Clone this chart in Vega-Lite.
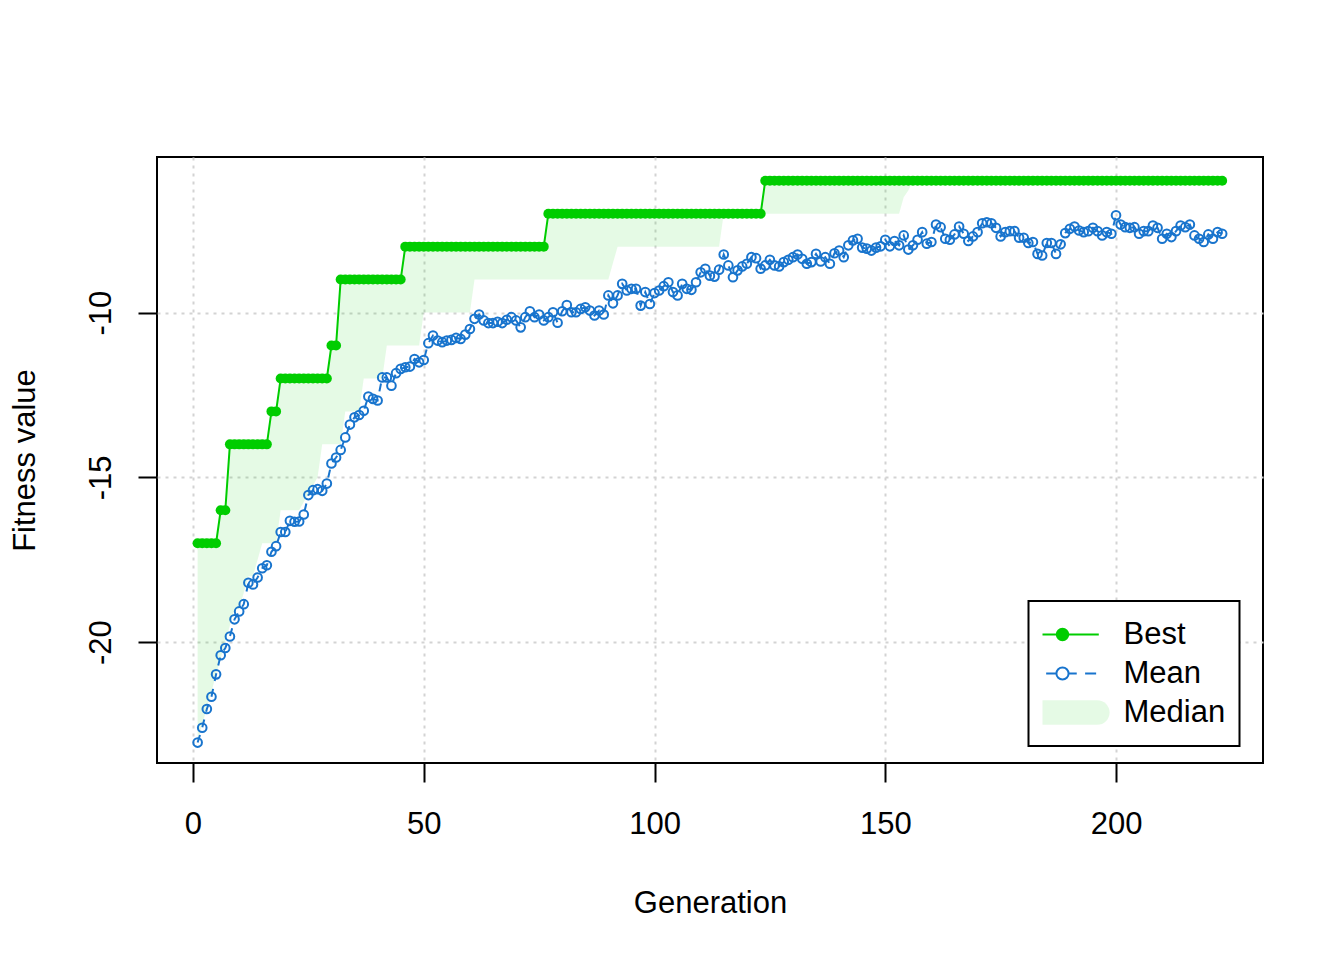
{
"$schema": "https://vega.github.io/schema/vega-lite/v6.json",
"width": 1106, "height": 606,
"autosize": {"type": "none"},
"padding": {"left": 157, "top": 157, "right": 81, "bottom": 197},
"background": "white",
"config": {
  "view": {"stroke": "black", "strokeWidth": 2},
  "font": "Liberation Sans",
  "axis": {"domain": false, "ticks": true, "tickSize": 19, "tickWidth": 2, "tickColor": "black",
    "grid": true, "gridColor": "#D3D3D3", "gridDash": [3, 5], "gridWidth": 2,
    "labelFont": "Liberation Sans", "labelFontSize": 31, "labelColor": "black",
    "titleFont": "Liberation Sans", "titleFontSize": 31, "titleFontWeight": "normal", "titleColor": "black",
    "labelExpr": "'' + datum.value", "labelOverlap": false, "labelFlush": false}
},
"data": {"values": [
{"g":1,"b":-17,"m":-23.05,"md":-23},{"g":2,"b":-17,"m":-22.6,"md":-22.5},{"g":3,"b":-17,"m":-22.03,"md":-22},{"g":4,"b":-17,"m":-21.66,"md":-21.5},{"g":5,"b":-17,"m":-20.98,"md":-21},
{"g":6,"b":-16,"m":-20.4,"md":-20.5},{"g":7,"b":-16,"m":-20.18,"md":-20},{"g":8,"b":-14,"m":-19.83,"md":-19.5},{"g":9,"b":-14,"m":-19.31,"md":-19},{"g":10,"b":-14,"m":-19.07,"md":-19},
{"g":11,"b":-14,"m":-18.85,"md":-18.5},{"g":12,"b":-14,"m":-18.2,"md":-18},{"g":13,"b":-14,"m":-18.25,"md":-18},{"g":14,"b":-14,"m":-18.04,"md":-17.5},{"g":15,"b":-14,"m":-17.76,"md":-17},
{"g":16,"b":-14,"m":-17.67,"md":-17},{"g":17,"b":-13,"m":-17.26,"md":-17},{"g":18,"b":-13,"m":-17.09,"md":-17},{"g":19,"b":-12,"m":-16.66,"md":-16},{"g":20,"b":-12,"m":-16.66,"md":-16},
{"g":21,"b":-12,"m":-16.32,"md":-16},{"g":22,"b":-12,"m":-16.35,"md":-16},{"g":23,"b":-12,"m":-16.34,"md":-16},{"g":24,"b":-12,"m":-16.13,"md":-15.75},{"g":25,"b":-12,"m":-15.54,"md":-15.5},
{"g":26,"b":-12,"m":-15.39,"md":-15.25},{"g":27,"b":-12,"m":-15.36,"md":-15},{"g":28,"b":-12,"m":-15.41,"md":-14},{"g":29,"b":-12,"m":-15.19,"md":-14},{"g":30,"b":-11,"m":-14.58,"md":-14},
{"g":31,"b":-11,"m":-14.4,"md":-14},{"g":32,"b":-9,"m":-14.17,"md":-14},{"g":33,"b":-9,"m":-13.79,"md":-13},{"g":34,"b":-9,"m":-13.4,"md":-13},{"g":35,"b":-9,"m":-13.18,"md":-13},
{"g":36,"b":-9,"m":-13.11,"md":-13},{"g":37,"b":-9,"m":-12.98,"md":-12},{"g":38,"b":-9,"m":-12.55,"md":-12},{"g":39,"b":-9,"m":-12.62,"md":-12},{"g":40,"b":-9,"m":-12.67,"md":-12},
{"g":41,"b":-9,"m":-11.97,"md":-12},{"g":42,"b":-9,"m":-11.97,"md":-11},{"g":43,"b":-9,"m":-12.22,"md":-11},{"g":44,"b":-9,"m":-11.84,"md":-11},{"g":45,"b":-9,"m":-11.71,"md":-11},
{"g":46,"b":-8,"m":-11.66,"md":-11},{"g":47,"b":-8,"m":-11.64,"md":-11},{"g":48,"b":-8,"m":-11.41,"md":-11},{"g":49,"b":-8,"m":-11.51,"md":-11},{"g":50,"b":-8,"m":-11.44,"md":-10},
{"g":51,"b":-8,"m":-10.93,"md":-10},{"g":52,"b":-8,"m":-10.7,"md":-10},{"g":53,"b":-8,"m":-10.85,"md":-10},{"g":54,"b":-8,"m":-10.9,"md":-10},{"g":55,"b":-8,"m":-10.85,"md":-10},
{"g":56,"b":-8,"m":-10.83,"md":-10},{"g":57,"b":-8,"m":-10.77,"md":-10},{"g":58,"b":-8,"m":-10.8,"md":-10},{"g":59,"b":-8,"m":-10.67,"md":-10},{"g":60,"b":-8,"m":-10.5,"md":-10},
{"g":61,"b":-8,"m":-10.19,"md":-9},{"g":62,"b":-8,"m":-10.06,"md":-9},{"g":63,"b":-8,"m":-10.24,"md":-9},{"g":64,"b":-8,"m":-10.32,"md":-9},{"g":65,"b":-8,"m":-10.32,"md":-9},
{"g":66,"b":-8,"m":-10.28,"md":-9},{"g":67,"b":-8,"m":-10.32,"md":-9},{"g":68,"b":-8,"m":-10.22,"md":-9},{"g":69,"b":-8,"m":-10.14,"md":-9},{"g":70,"b":-8,"m":-10.24,"md":-9},
{"g":71,"b":-8,"m":-10.45,"md":-9},{"g":72,"b":-8,"m":-10.14,"md":-9},{"g":73,"b":-8,"m":-9.96,"md":-9},{"g":74,"b":-8,"m":-10.14,"md":-9},{"g":75,"b":-8,"m":-10.06,"md":-9},
{"g":76,"b":-8,"m":-10.24,"md":-9},{"g":77,"b":-7,"m":-10.14,"md":-9},{"g":78,"b":-7,"m":-9.99,"md":-9},{"g":79,"b":-7,"m":-10.31,"md":-9},{"g":80,"b":-7,"m":-9.96,"md":-9},
{"g":81,"b":-7,"m":-9.77,"md":-9},{"g":82,"b":-7,"m":-9.99,"md":-9},{"g":83,"b":-7,"m":-9.99,"md":-9},{"g":84,"b":-7,"m":-9.89,"md":-9},{"g":85,"b":-7,"m":-9.84,"md":-9},
{"g":86,"b":-7,"m":-9.94,"md":-9},{"g":87,"b":-7,"m":-10.09,"md":-9},{"g":88,"b":-7,"m":-9.94,"md":-9},{"g":89,"b":-7,"m":-10.06,"md":-9},{"g":90,"b":-7,"m":-9.48,"md":-9},
{"g":91,"b":-7,"m":-9.72,"md":-8.5},{"g":92,"b":-7,"m":-9.48,"md":-8},{"g":93,"b":-7,"m":-9.13,"md":-8},{"g":94,"b":-7,"m":-9.33,"md":-8},{"g":95,"b":-7,"m":-9.28,"md":-8},
{"g":96,"b":-7,"m":-9.28,"md":-8},{"g":97,"b":-7,"m":-9.79,"md":-8},{"g":98,"b":-7,"m":-9.38,"md":-8},{"g":99,"b":-7,"m":-9.74,"md":-8},{"g":100,"b":-7,"m":-9.41,"md":-8},
{"g":101,"b":-7,"m":-9.33,"md":-8},{"g":102,"b":-7,"m":-9.2,"md":-8},{"g":103,"b":-7,"m":-9.08,"md":-8},{"g":104,"b":-7,"m":-9.38,"md":-8},{"g":105,"b":-7,"m":-9.48,"md":-8},
{"g":106,"b":-7,"m":-9.13,"md":-8},{"g":107,"b":-7,"m":-9.28,"md":-8},{"g":108,"b":-7,"m":-9.31,"md":-8},{"g":109,"b":-7,"m":-9.08,"md":-8},{"g":110,"b":-7,"m":-8.78,"md":-8},
{"g":111,"b":-7,"m":-8.67,"md":-8},{"g":112,"b":-7,"m":-8.88,"md":-8},{"g":113,"b":-7,"m":-8.91,"md":-8},{"g":114,"b":-7,"m":-8.7,"md":-8},{"g":115,"b":-7,"m":-8.24,"md":-7},
{"g":116,"b":-7,"m":-8.57,"md":-7},{"g":117,"b":-7,"m":-8.93,"md":-7},{"g":118,"b":-7,"m":-8.72,"md":-7},{"g":119,"b":-7,"m":-8.6,"md":-7},{"g":120,"b":-7,"m":-8.52,"md":-7},
{"g":121,"b":-7,"m":-8.32,"md":-7},{"g":122,"b":-7,"m":-8.35,"md":-7},{"g":123,"b":-7,"m":-8.67,"md":-7},{"g":124,"b":-6,"m":-8.57,"md":-7},{"g":125,"b":-6,"m":-8.4,"md":-7},
{"g":126,"b":-6,"m":-8.57,"md":-7},{"g":127,"b":-6,"m":-8.6,"md":-7},{"g":128,"b":-6,"m":-8.47,"md":-7},{"g":129,"b":-6,"m":-8.4,"md":-7},{"g":130,"b":-6,"m":-8.32,"md":-7},
{"g":131,"b":-6,"m":-8.24,"md":-7},{"g":132,"b":-6,"m":-8.37,"md":-7},{"g":133,"b":-6,"m":-8.52,"md":-7},{"g":134,"b":-6,"m":-8.47,"md":-7},{"g":135,"b":-6,"m":-8.22,"md":-7},
{"g":136,"b":-6,"m":-8.45,"md":-7},{"g":137,"b":-6,"m":-8.32,"md":-7},{"g":138,"b":-6,"m":-8.52,"md":-7},{"g":139,"b":-6,"m":-8.2,"md":-7},{"g":140,"b":-6,"m":-8.12,"md":-7},
{"g":141,"b":-6,"m":-8.32,"md":-7},{"g":142,"b":-6,"m":-7.96,"md":-7},{"g":143,"b":-6,"m":-7.81,"md":-7},{"g":144,"b":-6,"m":-7.76,"md":-7},{"g":145,"b":-6,"m":-8.03,"md":-7},
{"g":146,"b":-6,"m":-8.06,"md":-7},{"g":147,"b":-6,"m":-8.12,"md":-7},{"g":148,"b":-6,"m":-8.03,"md":-7},{"g":149,"b":-6,"m":-7.99,"md":-7},{"g":150,"b":-6,"m":-7.79,"md":-7},
{"g":151,"b":-6,"m":-7.99,"md":-7},{"g":152,"b":-6,"m":-7.83,"md":-7},{"g":153,"b":-6,"m":-7.96,"md":-7},{"g":154,"b":-6,"m":-7.66,"md":-6.5},{"g":155,"b":-6,"m":-8.09,"md":-6.3},
{"g":156,"b":-6,"m":-7.96,"md":-6},{"g":157,"b":-6,"m":-7.79,"md":-6},{"g":158,"b":-6,"m":-7.56,"md":-6},{"g":159,"b":-6,"m":-7.91,"md":-6},{"g":160,"b":-6,"m":-7.86,"md":-6},
{"g":161,"b":-6,"m":-7.33,"md":-6},{"g":162,"b":-6,"m":-7.41,"md":-6},{"g":163,"b":-6,"m":-7.76,"md":-6},{"g":164,"b":-6,"m":-7.79,"md":-6},{"g":165,"b":-6,"m":-7.63,"md":-6},
{"g":166,"b":-6,"m":-7.39,"md":-6},{"g":167,"b":-6,"m":-7.61,"md":-6},{"g":168,"b":-6,"m":-7.83,"md":-6},{"g":169,"b":-6,"m":-7.69,"md":-6},{"g":170,"b":-6,"m":-7.56,"md":-6},
{"g":171,"b":-6,"m":-7.29,"md":-6},{"g":172,"b":-6,"m":-7.26,"md":-6},{"g":173,"b":-6,"m":-7.29,"md":-6},{"g":174,"b":-6,"m":-7.43,"md":-6},{"g":175,"b":-6,"m":-7.69,"md":-6},
{"g":176,"b":-6,"m":-7.56,"md":-6},{"g":177,"b":-6,"m":-7.53,"md":-6},{"g":178,"b":-6,"m":-7.53,"md":-6},{"g":179,"b":-6,"m":-7.73,"md":-6},{"g":180,"b":-6,"m":-7.73,"md":-6},
{"g":181,"b":-6,"m":-7.89,"md":-6},{"g":182,"b":-6,"m":-7.86,"md":-6},{"g":183,"b":-6,"m":-8.22,"md":-6},{"g":184,"b":-6,"m":-8.27,"md":-6},{"g":185,"b":-6,"m":-7.89,"md":-6},
{"g":186,"b":-6,"m":-7.89,"md":-6},{"g":187,"b":-6,"m":-8.22,"md":-6},{"g":188,"b":-6,"m":-7.93,"md":-6},{"g":189,"b":-6,"m":-7.59,"md":-6},{"g":190,"b":-6,"m":-7.46,"md":-6},
{"g":191,"b":-6,"m":-7.39,"md":-6},{"g":192,"b":-6,"m":-7.51,"md":-6},{"g":193,"b":-6,"m":-7.56,"md":-6},{"g":194,"b":-6,"m":-7.53,"md":-6},{"g":195,"b":-6,"m":-7.43,"md":-6},
{"g":196,"b":-6,"m":-7.53,"md":-6},{"g":197,"b":-6,"m":-7.66,"md":-6},{"g":198,"b":-6,"m":-7.56,"md":-6},{"g":199,"b":-6,"m":-7.61,"md":-6},{"g":200,"b":-6,"m":-7.05,"md":-6},
{"g":201,"b":-6,"m":-7.33,"md":-6},{"g":202,"b":-6,"m":-7.41,"md":-6},{"g":203,"b":-6,"m":-7.43,"md":-6},{"g":204,"b":-6,"m":-7.41,"md":-6},{"g":205,"b":-6,"m":-7.61,"md":-6},
{"g":206,"b":-6,"m":-7.53,"md":-6},{"g":207,"b":-6,"m":-7.53,"md":-6},{"g":208,"b":-6,"m":-7.36,"md":-6},{"g":209,"b":-6,"m":-7.43,"md":-6},{"g":210,"b":-6,"m":-7.76,"md":-6},
{"g":211,"b":-6,"m":-7.61,"md":-6},{"g":212,"b":-6,"m":-7.71,"md":-6},{"g":213,"b":-6,"m":-7.53,"md":-6},{"g":214,"b":-6,"m":-7.36,"md":-6},{"g":215,"b":-6,"m":-7.41,"md":-6},
{"g":216,"b":-6,"m":-7.33,"md":-6},{"g":217,"b":-6,"m":-7.66,"md":-6},{"g":218,"b":-6,"m":-7.76,"md":-6},{"g":219,"b":-6,"m":-7.86,"md":-6},{"g":220,"b":-6,"m":-7.63,"md":-6},
{"g":221,"b":-6,"m":-7.76,"md":-6},{"g":222,"b":-6,"m":-7.56,"md":-6},{"g":223,"b":-6,"m":-7.61,"md":-6}
]},
"encoding": {
  "x": {"field": "g", "type": "quantitative",
    "scale": {"domain": [-7.8, 231.85], "nice": false, "zero": false},
    "axis": {"values": [0, 50, 100, 150, 200], "title": "Generation", "labelBaseline": "alphabetic", "labelPadding": 51,
      "titleX": 553, "titleY": 149, "titleAlign": "center", "titleBaseline": "alphabetic"}}
},
"layer": [
  {"mark": {"type": "area", "fillOpacity": 0.1, "interpolate": "linear"},
   "encoding": {
     "y": {"field": "md", "type": "quantitative",
       "scale": {"domain": [-23.67, -5.28], "nice": false, "zero": false},
       "axis": {"values": [-20, -15, -10], "title": "Fitness value", "labelAngle": 270, "labelAlign": "center", "labelBaseline": "alphabetic", "labelPadding": 28,
         "titleAngle": 270, "titleX": -123, "titleY": 303, "titleAlign": "center", "titleBaseline": "alphabetic"}},
     "y2": {"field": "b"},
     "color": {"datum": "Median", "type": "nominal",
       "scale": {"domain": ["Best", "Mean", "Median"], "range": ["#00CD00", "#1874CD", "#00CD00"]},
       "legend": {"title": null, "orient": "none", "legendX": 871.5, "legendY": 444,
         "fillColor": "white", "strokeColor": "black", "padding": 14,
         "clipHeight": 39, "rowPadding": 0,
         "labelFont": "Liberation Sans", "labelFontSize": 31, "labelColor": "black", "labelOffset": 41, "labelLimit": 400,
         "symbolSize": 1444,
         "encode": {
           "legend": {"update": {"strokeWidth": {"value": 2}}},
           "symbols": {"update": {
             "shape": {"signal": "datum.value === 'Best' ? 'M-1.94,0H1.91M-0.3,0A0.3,0.3 0 1,1 0.3,0A0.3,0.3 0 1,1 -0.3,0Z' : datum.value === 'Mean' ? 'M-1.93,0H-1.29M-0.86,0H-0.32M0.32,0H0.75M1.19,0H1.77M-0.32,0A0.32,0.32 0 1,1 0.32,0A0.32,0.32 0 1,1 -0.32,0Z' : 'M-1.78,-0.65H1.83A0.65,0.65 0 0,1 1.83,0.65H-1.78A0.65,0.65 0 0,1 -1.78,-0.65Z'"},
             "fillOpacity": {"signal": "datum.value === 'Best' ? 1 : datum.value === 'Mean' ? 0 : 0.1"},
             "strokeOpacity": {"signal": "datum.value === 'Median' ? 0 : 1"},
             "strokeWidth": {"value": 2},
             "strokeDash": {"value": []},
             "size": {"value": 1444},
             "opacity": {"value": 1}
           }}
         }}}
   }},
  {"mark": {"type": "line", "strokeWidth": 2},
   "encoding": {"y": {"field": "b", "type": "quantitative"}, "color": {"datum": "Best", "type": "nominal"}}},
  {"mark": {"type": "point", "filled": true, "size": 100, "opacity": 1},
   "encoding": {"y": {"field": "b", "type": "quantitative"}, "color": {"datum": "Best", "type": "nominal"}}},
  {"mark": {"type": "line", "strokeWidth": 2, "strokeDash": [8, 8]},
   "encoding": {"y": {"field": "m", "type": "quantitative"}, "color": {"datum": "Mean", "type": "nominal"}}},
  {"mark": {"type": "point", "filled": false, "size": 75, "strokeWidth": 2, "opacity": 1},
   "encoding": {"y": {"field": "m", "type": "quantitative"}, "color": {"datum": "Mean", "type": "nominal"}}}
]
}
